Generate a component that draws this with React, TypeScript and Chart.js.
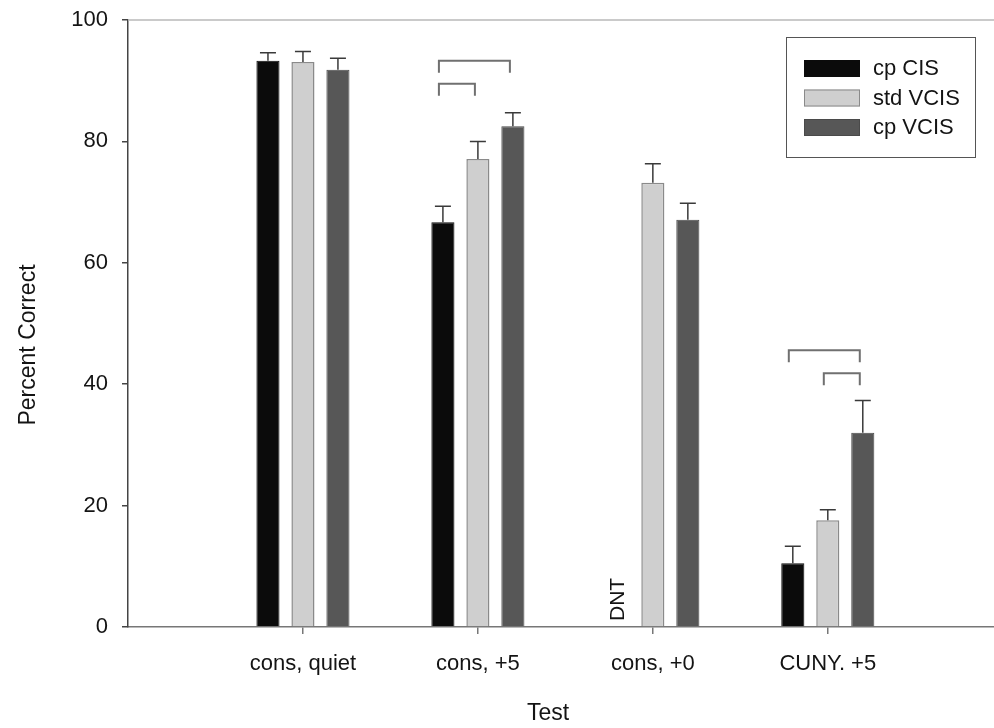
import React, { useEffect, useRef } from "react";
import { Chart, registerables } from "chart.js";

Chart.register(...registerables);

const categories = ["cons, quiet", "cons, +5", "cons, +0", "CUNY. +5"];
const seriesNames = ["cp CIS", "std VCIS", "cp VCIS"];
const cpCIS = [93.3, 66.7, null, 10.5];
const stdVCIS = [93.1, 77.1, 73.2, 17.6];
const cpVCIS = [91.8, 82.5, 67.1, 32.0];
const cpCISErr = [94.6, 69.3, null, 13.3];
const stdVCISErr = [94.8, 80.0, 76.3, 19.3];
const cpVCISErr = [93.7, 84.7, 69.8, 37.3];
const yTicks = [0, 20, 40, 60, 80, 100];
// significance brackets: category index, from series, to series, level
const bracketCat = [1, 1, 3, 3];
const bracketFrom = [0, 0, 1, 0];
const bracketTo = [1, 2, 2, 2];
const bracketLevel = [89.5, 93.3, 41.8, 45.6];
const dntCat = 2;
const dntSeries = 0;
const dntText = "DNT";

const FONT = "'Liberation Sans', Arial, Helvetica, sans-serif";
const TEXT = "#141414";

export default function App() {
  const ref = useRef<HTMLCanvasElement | null>(null);
  useEffect(() => {
    if (!ref.current) return;
    const toPts = (arr: (number | null)[]) =>
      arr.map((v, i) => ({ x: i + 1, y: v }));
    const errs = [cpCISErr, stdVCISErr, cpVCISErr];

    const extras = {
      id: "extras",
      afterDatasetsDraw(chart: any) {
        const ctx = chart.ctx;
        const ys = chart.scales.y;
        const area = chart.chartArea;
        // top frame line
        ctx.save();
        ctx.strokeStyle = "#b8b8b8";
        ctx.lineWidth = 1.5;
        ctx.beginPath();
        ctx.moveTo(area.left, area.top);
        ctx.lineTo(area.right, area.top);
        ctx.stroke();
        // error bars
        ctx.strokeStyle = "#3a3a3a";
        ctx.lineWidth = 1.5;
        errs.forEach((arr, di) => {
          const meta = chart.getDatasetMeta(di);
          arr.forEach((e, i) => {
            if (e == null) return;
            const el = meta.data[i] as any;
            if (!el) return;
            const yTop = ys.getPixelForValue(e);
            ctx.beginPath();
            ctx.moveTo(el.x, el.y);
            ctx.lineTo(el.x, yTop);
            ctx.moveTo(el.x - 8, yTop);
            ctx.lineTo(el.x + 8, yTop);
            ctx.stroke();
          });
        });
        // brackets
        ctx.strokeStyle = "#707070";
        ctx.lineWidth = 2;
        bracketCat.forEach((c, k) => {
          const a = chart.getDatasetMeta(bracketFrom[k]).data[c] as any;
          const b = chart.getDatasetMeta(bracketTo[k]).data[c] as any;
          const ax = a.x - 4;
          const bx = b.x - 3;
          const y = ys.getPixelForValue(bracketLevel[k]);
          ctx.beginPath();
          ctx.moveTo(ax, y + 12);
          ctx.lineTo(ax, y);
          ctx.lineTo(bx, y);
          ctx.lineTo(bx, y + 12);
          ctx.stroke();
        });
        // DNT
        const d = chart.getDatasetMeta(dntSeries).data[dntCat] as any;
        ctx.fillStyle = TEXT;
        ctx.font = `21px ${FONT}`;
        ctx.translate(d.x, ys.getPixelForValue(0) - 6);
        ctx.rotate(-Math.PI / 2);
        ctx.textAlign = "left";
        ctx.textBaseline = "middle";
        ctx.fillText(dntText, 0, 0);
        ctx.restore();

        // legend
        ctx.save();
        ctx.strokeStyle = "#555";
        ctx.lineWidth = 1;
        ctx.strokeRect(786.5, 37.5, 189, 120);
        const sw = [
          ["#0b0b0b", "#0b0b0b"],
          ["#cfcfcf", "#8a8a8a"],
          ["#575757", "#4a4a4a"],
        ];
        seriesNames.forEach((n, i) => {
          const y = 60 + i * 29.5;
          ctx.fillStyle = sw[i][0];
          ctx.fillRect(804, y, 56, 17);
          ctx.strokeStyle = sw[i][1];
          ctx.lineWidth = 1;
          ctx.strokeRect(804.5, y + 0.5, 55, 16);
          ctx.fillStyle = TEXT;
          ctx.font = `22px ${FONT}`;
          ctx.textAlign = "left";
          ctx.textBaseline = "middle";
          ctx.fillText(n, 873, y + 9);
        });
        // axis titles
        ctx.font = `23px ${FONT}`;
        ctx.textAlign = "center";
        ctx.textBaseline = "middle";
        ctx.fillText("Test", 548, 714);
        ctx.translate(29, 345);
        ctx.rotate(-Math.PI / 2);
        ctx.fillText("Percent Correct", 0, 0);
        ctx.restore();
      },
    };

    const chart = new Chart(ref.current, {
      type: "bar",
      data: {
        datasets: [
          {
            label: seriesNames[0],
            data: toPts(cpCIS) as any,
            backgroundColor: "#0b0b0b",
            borderColor: "#0b0b0b",
            borderWidth: 1,
          },
          {
            label: seriesNames[1],
            data: toPts(stdVCIS) as any,
            backgroundColor: "#cfcfcf",
            borderColor: "#8a8a8a",
            borderWidth: 1.5,
          },
          {
            label: seriesNames[2],
            data: toPts(cpVCIS) as any,
            backgroundColor: "#575757",
            borderColor: "#4a4a4a",
            borderWidth: 1,
          },
        ],
      },
      options: {
        responsive: false,
        animation: false,
        categoryPercentage: 0.6,
        barPercentage: 0.66,
        layout: { padding: { top: 20, left: 0, right: 0, bottom: 0 } },
        plugins: { legend: { display: false }, tooltip: { enabled: false } },
        scales: {
          x: {
            type: "linear",
            min: 0,
            max: 4.95,
            offset: false,
            afterBuildTicks: (s: any) => {
              s.ticks = categories.map((_, i) => ({ value: i + 1 }));
            },
            afterFit: (s: any) => {
              s.height = 101;
              s.paddingLeft = 0;
              s.paddingRight = 0;
            },
            ticks: {
              autoSkip: false,
              maxRotation: 0,
              padding: 17,
              color: TEXT,
              font: { family: FONT, size: 22 },
              callback: (v: any) => categories[Math.round(v) - 1] ?? "",
            },
            grid: {
              offset: false,
              drawOnChartArea: false,
              drawTicks: true,
              tickLength: 7,
              color: "#777",
              lineWidth: 1.5,
            },
            border: { color: "#777", width: 1.5 },
          },
          y: {
            min: 0,
            max: 100,
            afterBuildTicks: (s: any) => {
              s.ticks = yTicks.map((v) => ({ value: v }));
            },
            afterFit: (s: any) => {
              s.width = 128;
              s.paddingTop = 0;
              s.paddingBottom = 0;
            },
            ticks: {
              padding: 14,
              color: TEXT,
              font: { family: FONT, size: 22 },
            },
            grid: {
              drawOnChartArea: false,
              drawTicks: true,
              tickLength: 6,
              color: "#444",
              lineWidth: 1.5,
            },
            border: { color: "#444", width: 1.5 },
          },
        },
      },
      plugins: [extras],
    });
    return () => chart.destroy();
  }, []);
  return (
    <div style={{ position: "fixed", left: 0, top: 0, width: 994, height: 728, background: "#fff" }}>
      <canvas ref={ref} width={994} height={728} style={{ width: 994, height: 728 }} />
    </div>
  );
}
